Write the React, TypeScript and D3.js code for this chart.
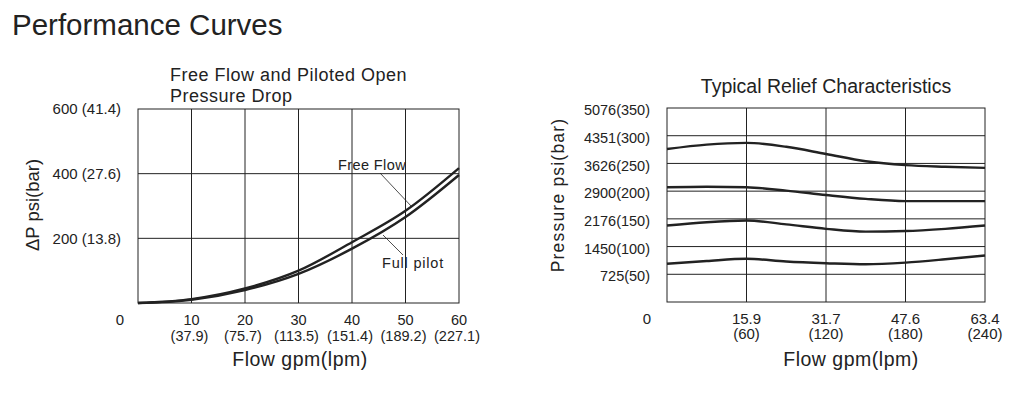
import React from "react";
import * as d3 from "d3";

// left chart: pressure drop (psi) against flow (gpm)
const dropFlow = [0, 10, 20, 30, 40, 50, 60];
const freeFlowPsi = [0, 12, 45, 100, 188, 285, 417];
const fullPilotPsi = [0, 10, 40, 90, 168, 266, 396];
const dropXTicks = [10, 20, 30, 40, 50, 60];
const dropXSub = ["(37.9)", "(75.7)", "(113.5)", "(151.4)", "(189.2)", "(227.1)"];
const dropYTicks = [200, 400, 600];
const dropYLabels = ["200 (13.8)", "400 (27.6)", "600 (41.4)"];

// right chart: relief pressure (bar) against flow (lpm)
const reliefFlow = [0, 30, 60, 90, 120, 150, 180, 210, 240];
const relief1 = [276, 284, 287, 280, 267, 254, 247, 244, 242];
const relief2 = [207, 208, 207, 201, 193, 186, 182, 182, 182];
const relief3 = [138, 144, 147, 140, 132, 127, 128, 132, 138];
const relief4 = [69, 74, 78, 73, 70, 68, 71, 77, 84];
const reliefXTicks = [60, 120, 180, 240];
const reliefXMain = ["15.9", "31.7", "47.6", "63.4"];
const reliefXSub = ["(60)", "(120)", "(180)", "(240)"];
const reliefYTicks = [50, 100, 150, 200, 250, 300, 350];
const reliefYLabels = ["725(50)", "1450(100)", "2176(150)", "2900(200)", "3626(250)", "4351(300)", "5076(350)"];

const font = "'Liberation Sans', Arial, sans-serif";
const ink = "#222";

export default function App() {
  // left frame
  const lx = d3.scaleLinear().domain([0, 60]).range([138, 459]);
  const ly = d3.scaleLinear().domain([0, 600]).range([303, 109]);
  const dropLine = d3
    .line<number>()
    .x((_, i) => lx(dropFlow[i]))
    .y((d) => ly(d))
    .curve(d3.curveMonotoneX);

  // right frame
  const rx = d3.scaleLinear().domain([0, 240]).range([667, 985]);
  const ry = d3.scaleLinear().domain([0, 350]).range([302, 108]);
  const reliefLine = d3
    .line<number>()
    .x((_, i) => rx(reliefFlow[i]))
    .y((d) => ry(d))
    .curve(d3.curveMonotoneX);

  return (
    <svg width={1020} height={393} style={{ position: "absolute", left: 0, top: 0 }} fontFamily={font} fill={ink}>
      <rect width={1020} height={393} fill="#fff" />
      <text x={12} y={35} fontSize={29.5}>Performance Curves</text>

      {/* ---- left chart ---- */}
      <text x={170} y={81} fontSize={18} letterSpacing={0.5}>Free Flow and Piloted Open</text>
      <text x={170} y={102} fontSize={18} letterSpacing={0.5}>Pressure Drop</text>
      <g stroke={ink} strokeWidth={1}>
        {dropXTicks.slice(0, -1).map((t) => (
          <line key={t} x1={lx(t)} x2={lx(t)} y1={ly(0)} y2={ly(600)} />
        ))}
        {dropYTicks.slice(0, -1).map((t) => (
          <line key={t} x1={lx(0)} x2={lx(60)} y1={ly(t)} y2={ly(t)} />
        ))}
        <rect x={lx(0)} y={ly(600)} width={lx(60) - lx(0)} height={ly(0) - ly(600)} fill="none" />
      </g>
      {dropYTicks.map((t, i) => (
        <text key={t} x={121} y={ly(t)} dy="0.35em" textAnchor="end" fontSize={15}>
          {dropYLabels[i]}
        </text>
      ))}
      <text x={120} y={325} textAnchor="middle" fontSize={15}>0</text>
      {dropXTicks.map((t, i) => (
        <g key={t} fontSize={14.5} textAnchor="middle">
          <text x={lx(t)} y={325}>{t}</text>
          <text x={lx(t) - 2} y={341}>{dropXSub[i]}</text>
        </g>
      ))}
      <text x={300} y={366} textAnchor="middle" fontSize={19.5} letterSpacing={0.5}>Flow gpm(lpm)</text>
      <text transform={`translate(39,205) rotate(-90)`} textAnchor="middle" fontSize={18.5}>ΔP psi(bar)</text>

      <path d={dropLine(freeFlowPsi) ?? ""} fill="none" stroke={ink} strokeWidth={2.4} />
      <path d={dropLine(fullPilotPsi) ?? ""} fill="none" stroke={ink} strokeWidth={2.4} />
      <g stroke={ink} strokeWidth={0.8}>
        <line x1={380} y1={173} x2={412} y2={207} />
        <line x1={383} y1={235} x2={403} y2={255} />
      </g>
      <text x={338} y={170} fontSize={14.5} letterSpacing={0.4}>Free Flow</text>
      <text x={382} y={268} fontSize={14.5} letterSpacing={0.8}>Full pilot</text>

      {/* ---- right chart ---- */}
      <text x={826} y={93} textAnchor="middle" fontSize={19.5}>Typical Relief Characteristics</text>
      <g stroke={ink} strokeWidth={1}>
        {reliefXTicks.slice(0, -1).map((t) => (
          <line key={t} x1={rx(t)} x2={rx(t)} y1={ry(0)} y2={ry(350)} />
        ))}
        {reliefYTicks.slice(0, -1).map((t) => (
          <line key={t} x1={rx(0)} x2={rx(240)} y1={ry(t)} y2={ry(t)} />
        ))}
        <rect x={rx(0)} y={ry(350)} width={rx(240) - rx(0)} height={ry(0) - ry(350)} fill="none" />
      </g>
      {reliefYTicks.map((t, i) => (
        <text key={t} x={650} y={ry(t) + 2} dy="0.35em" textAnchor="end" fontSize={14.5}>
          {reliefYLabels[i]}
        </text>
      ))}
      <text x={647} y={324} textAnchor="middle" fontSize={15}>0</text>
      {reliefXTicks.map((t, i) => (
        <g key={t} fontSize={15} textAnchor="middle">
          <text x={rx(t)} y={324}>{reliefXMain[i]}</text>
          <text x={rx(t)} y={339}>{reliefXSub[i]}</text>
        </g>
      ))}
      <text x={851} y={366} textAnchor="middle" fontSize={19.5} letterSpacing={0.5}>Flow gpm(lpm)</text>
      <text transform={`translate(564,195) rotate(-90)`} textAnchor="middle" fontSize={17.5} letterSpacing={1.2}>
        Pressure psi(bar)
      </text>

      {[relief1, relief2, relief3, relief4].map((s, i) => (
        <path key={i} d={reliefLine(s) ?? ""} fill="none" stroke={ink} strokeWidth={2.4} />
      ))}
    </svg>
  );
}
